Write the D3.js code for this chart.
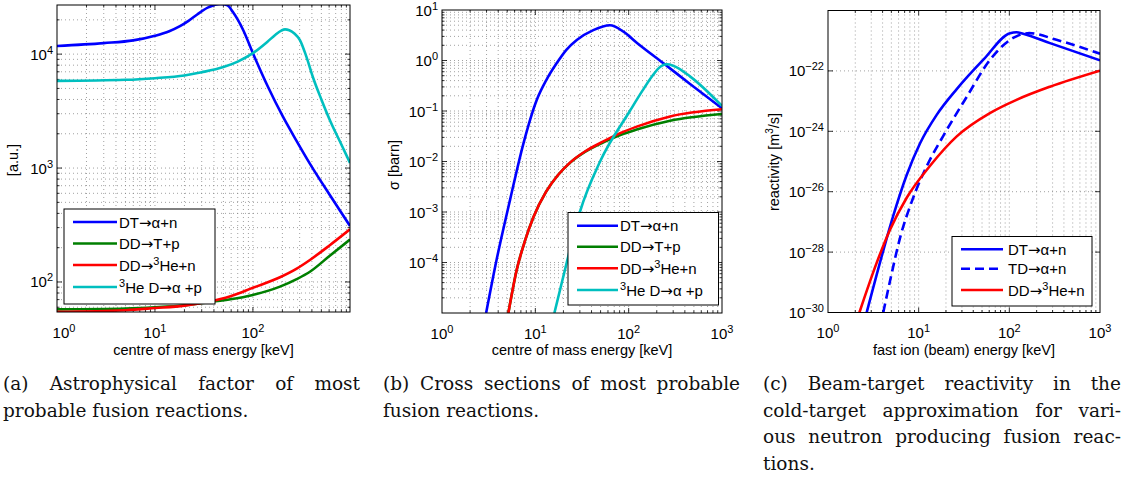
<!DOCTYPE html>
<html>
<head>
<meta charset="utf-8">
<script src="https://cdn.jsdelivr.net/npm/d3@7"></script>
<style>
  body { margin: 0; background: #fff; }
  svg { font-family: "Liberation Sans", Arial, Helvetica, sans-serif; }
</style>
</head>
<body>
<svg id="chart" width="1125" height="492"></svg>
<script>
// ---- data: [energy keV, value] ----
// (a) astrophysical factor [a.u.]
const dtAstro = [[1,11800],[3,12500],[6,13200],[10,14500],[14,15900],[18,17600],[22,19600],[27,22300],[35,25700],[47,27600],[55,26800],[62.5,23400],[79.5,16300],[100,10200],[142,5200],[202,2840],[275,1770],[380,1100],[612,577],[980,310]];
const ddtpAstro = [[1,57.5],[5,58.5],[10,60],[20,62.5],[35,66.5],[59,70.5],[100,77],[189,91],[280,106],[382,123],[600,168],[980,236]];
const ddhenAstro = [[1,54.7],[5,56.5],[10,59],[20,62],[35,67],[59,75],[100,89],[189,110],[280,131],[382,156],[600,208],[980,290]];
const dheAstro = [[1,5820],[5,5950],[10,6150],[20,6500],[30,6930],[50,7700],[70,8600],[100,10200],[140,12800],[170,14800],[195,16100],[213,16500],[235,16200],[265,15200],[302,13300],[350,9600],[410,6270],[500,4000],[611,2630],[800,1610],[980,1110]];

// (b) cross sections [barn]
const dtSigma = [[2.97,1e-5],[3.86,1.17e-4],[5.36,1.74e-3],[7.44,2.24e-2],[10.35,0.165],[13.2,0.42],[16.9,0.88],[21.5,1.63],[27.8,2.55],[41.8,4.0],[63,5.0],[88,3.72],[122,2.25],[236,0.88],[455,0.343],[1000,0.113]];
const ddtpSigma = [[5.14,1e-5],[6.31,7.1e-5],[7.8,2.8e-4],[9.53,7.9e-4],[13,2.5e-3],[17.5,5.4e-3],[23.5,9.4e-3],[34,1.55e-2],[53.6,2.4e-2],[80,3.3e-2],[122,4.3e-2],[278,6.4e-2],[1000,0.087]];
const ddhenSigma = [[5.14,1e-5],[6.31,7.1e-5],[7.8,2.8e-4],[9.53,7.9e-4],[13,2.5e-3],[17.5,5.4e-3],[23.5,9.5e-3],[34,1.58e-2],[53.6,2.5e-2],[80,3.6e-2],[122,4.9e-2],[278,7.8e-2],[1000,0.108]];
const dheSigma = [[16,1e-5],[21.7,1e-4],[30,1e-3],[49.4,1e-2],[103,0.1],[140,0.25],[180,0.5],[220,0.76],[256,0.84],[300,0.79],[457,0.48],[1000,0.126]];

// (c) beam-target reactivity [m^3/s]
const dtReact = [[2.67,1e-30],[4.07,1.12e-28],[5.25,1.6e-27],[7.36,3.5e-26],[10.4,4.1e-25],[15.8,3.5e-24],[26.3,2.5e-23],[52,2.4e-22],[102,1.78e-21],[120,1.9e-21],[142,1.7e-21],[281,8.3e-22],[1000,2.24e-22]];
const tdReact = [[4.07,1e-30],[4.83,1.1e-29],[6.2,2.8e-28],[8.7,6.3e-27],[12.3,7.1e-26],[18.7,7.1e-25],[34,1.4e-23],[61,2.3e-22],[110,1.23e-21],[166,1.78e-21],[331,1.07e-21],[1000,3.7e-22]];
const ddhenReact = [[2.22,1e-30],[3.44,4.4e-29],[4.83,5.5e-28],[7.38,6.3e-27],[13.3,7.1e-26],[26.3,6.8e-25],[61,4.0e-24],[120,1.1e-23],[281,3.0e-23],[1000,1.02e-22]];

// tick labels (exponents of ten)
const xTicksA = [0, 1, 2];
const yTicksA = [2, 3, 4];
const xTicksB = [0, 1, 2, 3];
const yTicksB = [-4, -3, -2, -1, 0, 1];
const xTicksC = [0, 1, 2, 3];
const yTicksC = [-30, -28, -26, -24, -22];

const legendAB = ["DT→α+n", "DD→T+p", "DD→^3He+n", "^3He D→α +p"];
const legendC = ["DT→α+n", "TD→α+n", "DD→^3He+n"];

const captionA = ["(a) Astrophysical factor of most", "probable fusion reactions."];
const captionB = ["(b) Cross sections of most probable", "fusion reactions."];
const captionC = ["(c) Beam-target reactivity in the", "cold-target approximation for vari-", "ous neutron producing fusion reac-", "tions."];

const BLUE = "#0000ff", GREEN = "#007f00", RED = "#ff0000", CYAN = "#00bfbf";

const svg = d3.select("#chart");

// text with ^x or ^{xx} superscripts; arrows drawn with DejaVu Sans (wider glyph)
function rich(sel, str, size) {
  const parts = [];
  let buf = "", i = 0;
  const flush = () => { if (buf) parts.push([buf, false]); buf = ""; };
  while (i < str.length) {
    if (str[i] === "^") {
      flush();
      if (str[i + 1] === "{") {
        const j = str.indexOf("}", i);
        parts.push([str.slice(i + 2, j), true]);
        i = j + 1;
      } else {
        parts.push([str[i + 1], true]);
        i += 2;
      }
    } else if (str[i] === "→") {
      flush();
      parts.push(["→", "arrow"]);
      i++;
    } else { buf += str[i]; i++; }
  }
  flush();
  const shift = Math.round(size * 0.42);
  let up = false;
  parts.forEach(([t, kind]) => {
    const ts = sel.append("tspan").text(t);
    if (kind === true) {
      ts.attr("font-size", Math.round(size * 0.7) + "px");
      if (!up) { ts.attr("dy", -shift); up = true; }
      return;
    }
    if (up) { ts.attr("dy", shift); up = false; }
    if (kind === "arrow") ts.attr("font-family", "'DejaVu Sans', sans-serif");
  });
}

function values(domain) {
  const out = [];
  const lo = Math.log10(domain[0]), hi = Math.log10(domain[1]);
  for (let k = Math.floor(lo); k <= Math.ceil(hi); k++) {
    for (let m = 1; m <= 9; m++) {
      const v = m * Math.pow(10, k);
      if (v >= domain[0] * 1.0001 && v <= domain[1] * 0.9999) out.push({ v, major: m === 1 });
    }
  }
  return out;
}

function panel(p) {
  const x = d3.scaleLog().domain(p.xDomain).range([p.left, p.right]);
  const y = d3.scaleLog().domain(p.yDomain).range([p.bottom, p.top]);
  const g = svg.append("g");

  const clipId = "clip-" + p.id;
  g.append("clipPath").attr("id", clipId)
    .append("rect")
    .attr("x", p.left).attr("y", p.top)
    .attr("width", p.right - p.left).attr("height", p.bottom - p.top);

  // dotted grid
  const grid = g.append("g")
    .attr("stroke", "#222").attr("stroke-width", 0.7)
    .attr("stroke-dasharray", "1,3").attr("opacity", 0.6);
  const xv = values(p.xDomain);
  const yv = p.yGridMajorOnly
    ? p.yTicks.map(e => ({ v: Math.pow(10, e), major: true }))
    : values(p.yDomain);
  grid.selectAll(".gx").data(xv).enter().append("line")
    .attr("x1", d => x(d.v)).attr("x2", d => x(d.v))
    .attr("y1", p.top).attr("y2", p.bottom);
  grid.selectAll(".gy").data(yv).enter().append("line")
    .attr("x1", p.left).attr("x2", p.right)
    .attr("y1", d => y(d.v)).attr("y2", d => y(d.v));

  // inward ticks on all four sides
  const ticks = g.append("g").attr("stroke", "#000").attr("stroke-width", 0.8);
  xv.forEach(d => {
    const len = d.major ? 5 : 2.5;
    ticks.append("line").attr("x1", x(d.v)).attr("x2", x(d.v)).attr("y1", p.bottom).attr("y2", p.bottom - len);
    ticks.append("line").attr("x1", x(d.v)).attr("x2", x(d.v)).attr("y1", p.top).attr("y2", p.top + len);
  });
  yv.forEach(d => {
    const len = d.major ? 5 : 2.5;
    ticks.append("line").attr("y1", y(d.v)).attr("y2", y(d.v)).attr("x1", p.left).attr("x2", p.left + len);
    ticks.append("line").attr("y1", y(d.v)).attr("y2", y(d.v)).attr("x1", p.right).attr("x2", p.right - len);
  });

  // curves
  const line = d3.line()
    .x(d => x(d[0])).y(d => y(d[1]))
    .curve(d3.curveMonotoneX);
  g.append("g").attr("clip-path", `url(#${clipId})`)
    .selectAll("path").data(p.series).enter().append("path")
    .attr("d", s => line(s.data))
    .attr("fill", "none")
    .attr("stroke", s => s.color)
    .attr("stroke-width", 2.6)
    .attr("stroke-dasharray", s => s.dash || null)
    .attr("stroke-linejoin", "round");

  // frame
  g.append("rect")
    .attr("x", p.left).attr("y", p.top)
    .attr("width", p.right - p.left).attr("height", p.bottom - p.top)
    .attr("fill", "none").attr("stroke", "#000").attr("stroke-width", 1);

  // tick labels
  p.xTicks.forEach(e => {
    const t = g.append("text")
      .attr("x", x(Math.pow(10, e)) + (p.xLabelNudge && e === p.xTicks[0] ? p.xLabelNudge : 0))
      .attr("y", p.bottom + 25.5)
      .attr("text-anchor", "middle").attr("font-size", "15px");
    rich(t, "10^{" + String(e).replace("-", "−") + "}", 15);
  });
  p.yTicks.forEach(e => {
    const t = g.append("text")
      .attr("x", p.left - 4)
      .attr("y", y(Math.pow(10, e)) + 5.5)
      .attr("text-anchor", "end").attr("font-size", "15px");
    rich(t, "10^{" + String(e).replace("-", "−") + "}", 15);
  });

  // axis labels
  g.append("text")
    .attr("x", (p.left + p.right) / 2).attr("y", 355)
    .attr("text-anchor", "middle").attr("font-size", "14.5px")
    .text(p.xLabel);
  const yl = g.append("text")
    .attr("transform", `translate(${p.yLabelX},${p.yLabelY}) rotate(-90)`)
    .attr("text-anchor", "middle").attr("font-size", "14.5px");
  rich(yl, p.yLabel, 14.5);

  // legend
  const L = p.legend;
  const lg = g.append("g");
  lg.append("rect")
    .attr("x", L.x).attr("y", L.y).attr("width", L.w).attr("height", L.h)
    .attr("fill", "#fff").attr("stroke", "#000").attr("stroke-width", 1);
  p.series.forEach((s, i) => {
    const ry = L.rows[i];
    lg.append("line")
      .attr("x1", L.lineX0).attr("x2", L.lineX1).attr("y1", ry).attr("y2", ry)
      .attr("stroke", s.color).attr("stroke-width", 2.6)
      .attr("stroke-dasharray", s.dash || null);
    const t = lg.append("text")
      .attr("x", L.textX).attr("y", ry + 5.5).attr("font-size", "15px");
    rich(t, L.labels[i], 15);
  });
}

panel({
  id: "a", left: 57, right: 350, top: 5, bottom: 312,
  xDomain: [1, 980], yDomain: [54.5, 27000],
  xTicks: xTicksA, yTicks: yTicksA, xLabelNudge: 7,
  xLabel: "centre of mass energy [keV]",
  yLabel: "[a.u.]", yLabelX: 18, yLabelY: 160,
  series: [
    { data: dtAstro, color: BLUE },
    { data: ddtpAstro, color: GREEN },
    { data: ddhenAstro, color: RED },
    { data: dheAstro, color: CYAN }
  ],
  legend: { x: 64, y: 209, w: 151, h: 95, rows: [222, 243.5, 265, 287],
            lineX0: 73, lineX1: 117, textX: 119, labels: legendAB }
});

panel({
  id: "b", left: 442, right: 722, top: 10, bottom: 313,
  xDomain: [1, 1000], yDomain: [1e-5, 10],
  xTicks: xTicksB, yTicks: yTicksB,
  xLabel: "centre of mass energy [keV]",
  yLabel: "σ [barn]", yLabelX: 399, yLabelY: 165,
  series: [
    { data: dtSigma, color: BLUE },
    { data: ddtpSigma, color: GREEN },
    { data: ddhenSigma, color: RED },
    { data: dheSigma, color: CYAN }
  ],
  legend: { x: 568, y: 212.5, w: 150.5, h: 92.5, rows: [225.7, 246.7, 268.3, 290],
            lineX0: 577, lineX1: 618, textX: 620, labels: legendAB }
});

panel({
  id: "c", left: 828, right: 1100, top: 10.5, bottom: 312.5,
  xDomain: [1, 1000], yDomain: [1e-30, 1e-20],
  xTicks: xTicksC, yTicks: yTicksC, yGridMajorOnly: true,
  xLabel: "fast ion (beam) energy [keV]",
  yLabel: "reactivity [m^3/s]", yLabelX: 779, yLabelY: 162,
  series: [
    { data: dtReact, color: BLUE },
    { data: tdReact, color: BLUE, dash: "9,5" },
    { data: ddhenReact, color: RED }
  ],
  legend: { x: 952, y: 236.5, w: 140, h: 69.5, rows: [249.3, 268.8, 290],
            lineX0: 961, lineX1: 1003, textX: 1008, labels: legendC }
});

// captions (justified like the thesis layout)
const capFont = "'DejaVu Serif', 'Liberation Serif', serif";
const capSize = "18.5px";
function caption(lines, x0, width) {
  lines.forEach((ln, i) => {
    const yb = 390 + i * 26.5;
    const words = ln.split(" ");
    const last = i === lines.length - 1;
    const tmp = svg.append("text").style("font-family", capFont).style("font-size", capSize);
    const widths = words.map(w => { tmp.text(w); return tmp.node().getComputedTextLength(); });
    tmp.text("a a");
    const two = tmp.node().getComputedTextLength();
    tmp.text("aa");
    const space = Math.max(3, two - tmp.node().getComputedTextLength());
    tmp.remove();
    const sum = d3.sum(widths);
    let gap = space;
    if (!last && words.length > 1) gap = Math.max(space * 0.6, (width - sum) / (words.length - 1));
    let cx = x0;
    words.forEach((w, k) => {
      svg.append("text")
        .attr("x", cx).attr("y", yb)
        .style("font-family", capFont).style("font-size", capSize)
        .attr("fill", "#111")
        .text(w);
      cx += widths[k] + gap;
    });
  });
}
caption(captionA, 3, 357);
caption(captionB, 383, 357);
caption(captionC, 763, 358);
</script>
</body>
</html>
